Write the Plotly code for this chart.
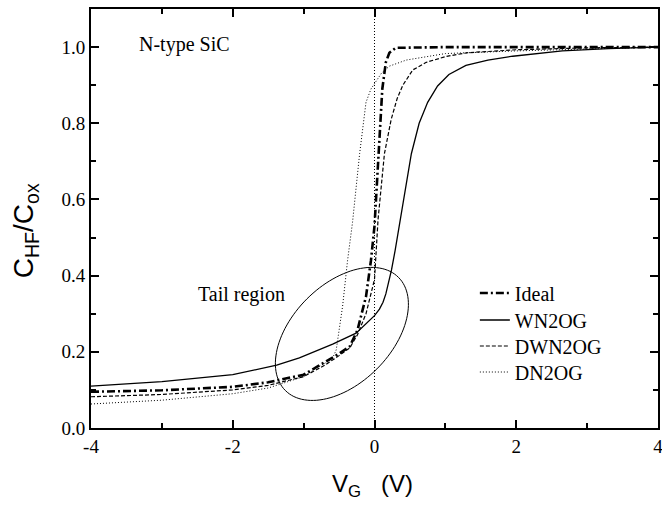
import numpy as np
import plotly.graph_objects as go

# ---- data ----
ideal_v = [-4, -3, -2, -1.5, -1.0, -0.7, -0.5, -0.35, -0.24, -0.12, -0.05, 0.0, 0.05, 0.11, 0.16, 0.21, 0.3, 1.0, 2.0, 3.0, 4.0]
ideal_c = [0.095, 0.099, 0.108, 0.12, 0.14, 0.172, 0.195, 0.214, 0.257, 0.345, 0.44, 0.53, 0.71, 0.89, 0.96, 0.985, 0.998, 1.0, 1.0, 1.0, 1.0]

wn2og_v = [-4, -3, -2, -1.38, -1.06, -0.59, -0.26, -0.12, 0.0, 0.07, 0.12, 0.16, 0.2, 0.24, 0.29, 0.35, 0.44, 0.52, 0.63, 0.75, 0.89, 1.05, 1.29, 1.6, 1.95, 2.3, 2.65, 3.3, 4.0]
wn2og_c = [0.11, 0.122, 0.14, 0.165, 0.184, 0.22, 0.249, 0.275, 0.295, 0.312, 0.33, 0.352, 0.38, 0.415, 0.465, 0.53, 0.635, 0.72, 0.80, 0.855, 0.898, 0.928, 0.952, 0.966, 0.976, 0.983, 0.99, 0.996, 1.0]

dwn2og_v = [-4, -3, -2, -1.5, -1.0, -0.7, -0.5, -0.35, -0.24, -0.12, 0.0, 0.05, 0.14, 0.235, 0.32, 0.4, 0.54, 0.73, 1.0, 1.3, 2.0, 3.0, 4.0]
dwn2og_c = [0.082, 0.088, 0.10, 0.112, 0.135, 0.165, 0.19, 0.21, 0.245, 0.3, 0.39, 0.547, 0.72, 0.81, 0.865, 0.9, 0.94, 0.96, 0.975, 0.985, 0.993, 0.998, 1.0]

dn2og_v = [-4, -3, -2, -1.5, -1.0, -0.8, -0.65, -0.59, -0.54, -0.45, -0.38, -0.31, -0.21, -0.12, -0.05, 0.02, 0.1, 0.21, 0.45, 1.0, 2.0, 3.0, 4.0]
dn2og_c = [0.063, 0.073, 0.09, 0.105, 0.135, 0.16, 0.175, 0.184, 0.205, 0.32, 0.44, 0.54, 0.72, 0.855, 0.89, 0.91, 0.932, 0.95, 0.966, 0.983, 0.99, 0.995, 1.0]

series_names = ["Ideal", "WN2OG", "DWN2OG", "DN2OG"]
x_ticks = [-4, -2, 0, 2, 4]
y_ticks = [0.0, 0.2, 0.4, 0.6, 0.8, 1.0]

# ---- figure ----
W, H = 662, 508
ML, MR, MT, MB = 91, 4, 9, 80
XR = [-4, 4]
YR = [0, 1.1]

serif = "Liberation Serif"
sans = "Liberation Sans"

styles = [
    dict(color="black", width=2.6, dash="8px,3px,2px,3px"),
    dict(color="black", width=1.3),
    dict(color="black", width=1.2, dash="4px,2px"),
    dict(color="black", width=1.0, dash="1px,2px"),
]
data = [(ideal_v, ideal_c), (wn2og_v, wn2og_c), (dwn2og_v, dwn2og_c), (dn2og_v, dn2og_c)]
legend_ids = ["legend", "legend2", "legend3", "legend4"]

fig = go.Figure()
for (xv, yv), name, st, lg in zip(data, series_names, styles, legend_ids):
    fig.add_trace(go.Scatter(x=xv, y=yv, mode="lines", name=name, line=st, legend=lg))

# Tail-region ellipse (tilted 45 deg on screen)
pw = W - ML - MR
ph = H - MT - MB
sx = pw / (XR[1] - XR[0])   # px per volt
sy = ph / (YR[1] - YR[0])   # px per unit C
cx, cy = -0.46, 0.247       # centre in data units
a_px, b_px, ang = 80, 49.5, np.deg2rad(45)
t = np.linspace(0, 2 * np.pi, 121)
ex = a_px * np.cos(t) * np.cos(ang) - b_px * np.sin(t) * np.sin(ang)
ey = a_px * np.cos(t) * np.sin(ang) + b_px * np.sin(t) * np.cos(ang)
xs = cx + ex / sx
ys = cy + ey / sy
path = "M " + " L ".join(f"{x:.4f},{y:.4f}" for x, y in zip(xs, ys)) + " Z"
fig.add_shape(type="path", path=path, xref="x", yref="y",
              line=dict(color="black", width=1))

# vertical dotted line at V=0
fig.add_shape(type="line", x0=0, x1=0, y0=0, y1=1, xref="x", yref="paper",
              line=dict(color="black", width=1, dash="1px,2px"))

fig.add_annotation(x=-3.35, y=1.008, xref="x", yref="y", text="N-type SiC",
                   showarrow=False, xanchor="left", yanchor="middle",
                   font=dict(family=serif, size=20, color="black"))
fig.add_annotation(x=-2.52, y=0.35, xref="x", yref="y", text="Tail region",
                   showarrow=False, xanchor="left", yanchor="middle",
                   font=dict(family=serif, size=20, color="black"))

# axis titles
fig.add_annotation(x=-0.116, y=0.47, xref="paper", yref="paper",
                   text="C<sub>HF</sub>/C<sub>ox</sub>", textangle=-90,
                   showarrow=False, xanchor="center", yanchor="middle",
                   font=dict(family=sans, size=28, color="black"))
fig.add_annotation(x=0.497, y=-0.138, xref="paper", yref="paper",
                   text="V<sub>G</sub>&nbsp;&nbsp;&nbsp;(V)",
                   showarrow=False, xanchor="center", yanchor="middle",
                   font=dict(family=sans, size=24, color="black"))

axis_common = dict(showline=True, linewidth=2, linecolor="black", mirror="ticks",
                   ticks="inside", ticklen=8, tickwidth=1.5, tickcolor="black",
                   showgrid=False, zeroline=False, ticklabeloverflow="allow",
                   tickfont=dict(family=serif, size=19, color="black"))

fig.update_xaxes(range=XR, tickvals=x_ticks, ticktext=[str(v) for v in x_ticks],
                 minor=dict(dtick=1, ticks="inside", ticklen=5, tickcolor="black", showgrid=False),
                 **axis_common)
fig.update_yaxes(range=YR, tickvals=y_ticks, ticktext=[f"{v:.1f}" for v in y_ticks],
                 minor=dict(dtick=0.1, ticks="inside", ticklen=5, tickcolor="black", showgrid=False),
                 **axis_common)

row_px = [293, 320, 346, 372]
leg_common = dict(x=0.677, xanchor="left", yanchor="middle",
                  bgcolor="rgba(0,0,0,0)", borderwidth=0,
                  font=dict(family=serif, size=20, color="black"))
legends = {}
for lg, yc in zip(legend_ids, row_px):
    legends[lg] = dict(y=(H - MB - yc) / ph, **leg_common)

fig.update_layout(
    width=W, height=H,
    margin=dict(l=ML, r=MR, t=MT, b=MB, autoexpand=False),
    paper_bgcolor="white", plot_bgcolor="white",
    font=dict(family=serif, color="black"),
    showlegend=True,
    **legends,
)

fig.write_html("out.html", config={"displayModeBar": False},
               post_script="document.body.style.margin='0';document.body.style.padding='0';")
